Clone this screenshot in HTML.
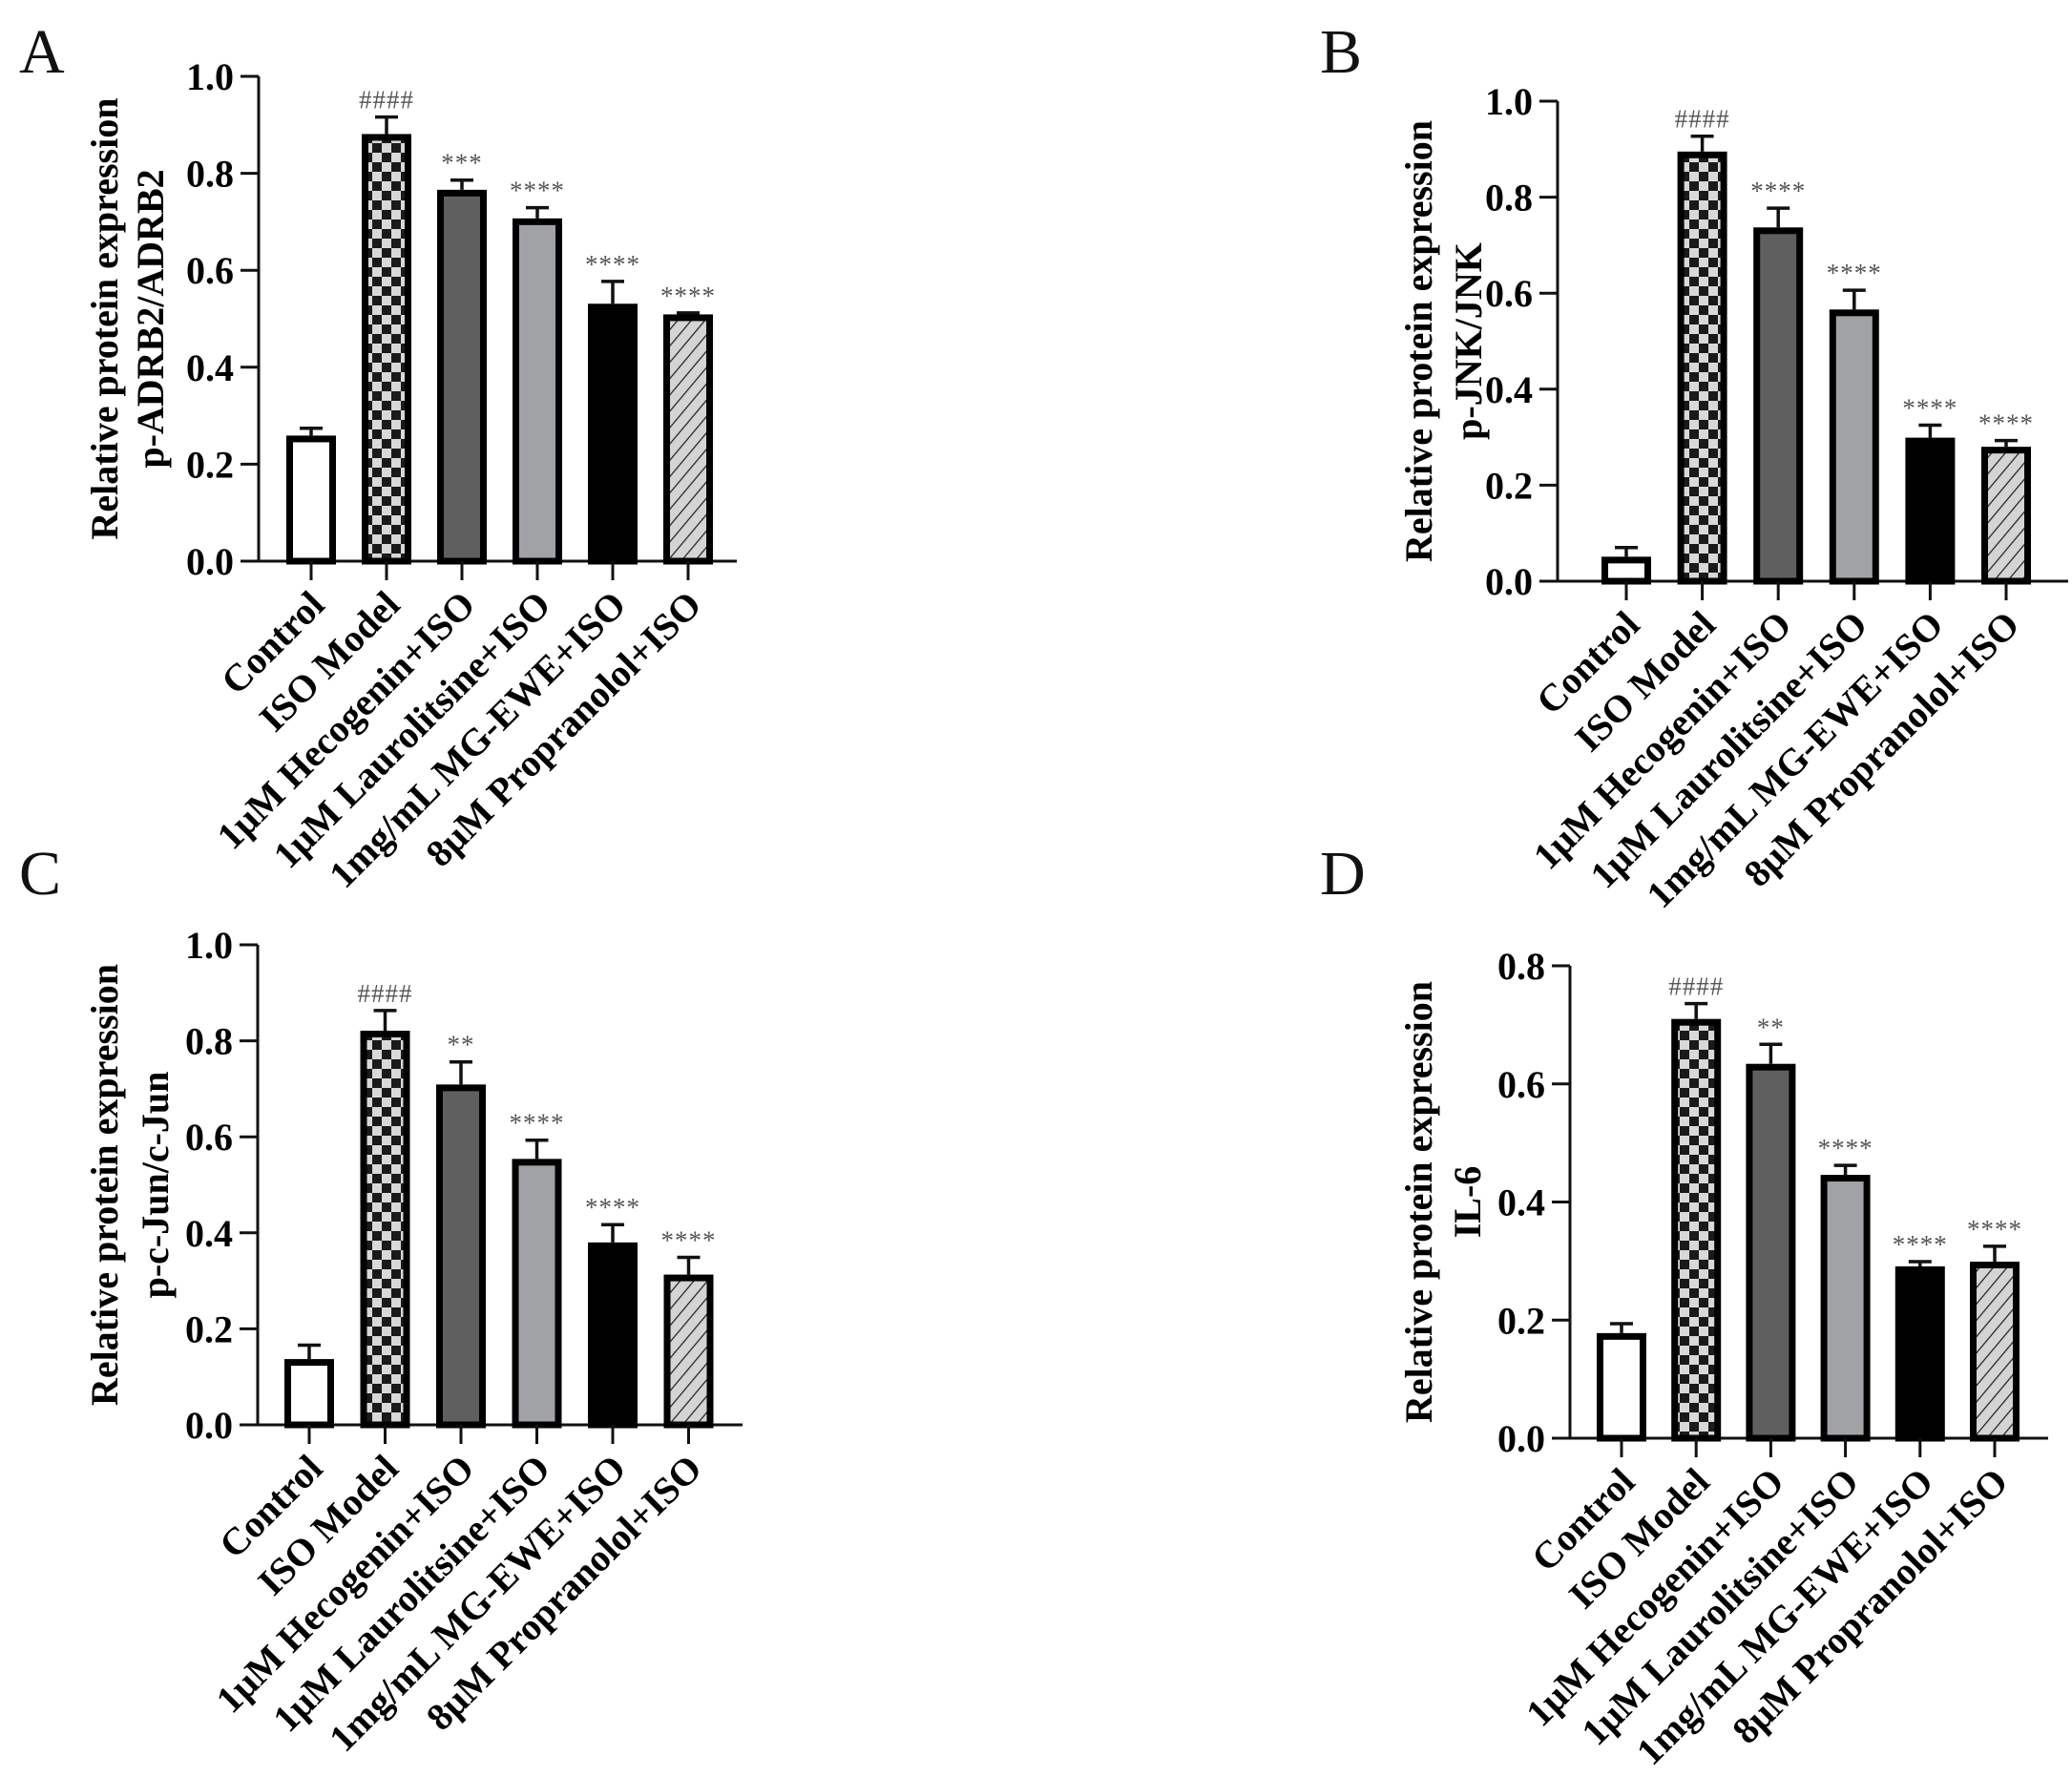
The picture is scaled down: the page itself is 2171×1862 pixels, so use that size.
<!DOCTYPE html>
<html><head><meta charset="utf-8"><style>
html,body{margin:0;padding:0;background:#fff;}
svg{display:block;font-family:"Liberation Serif",serif;}
</style></head><body>
<svg id="fig" width="2171" height="1862" viewBox="0 0 2171 1862" xmlns="http://www.w3.org/2000/svg">
<defs>
<pattern id="checker" width="20" height="20" patternUnits="userSpaceOnUse">
<rect width="20" height="20" fill="#d8d8d8"/>
<rect width="10" height="10" fill="#1a1a1a"/><rect x="10" y="10" width="10" height="10" fill="#1a1a1a"/>
</pattern>
<pattern id="hatch" width="11" height="11" patternUnits="userSpaceOnUse" patternTransform="rotate(40)">
<rect width="11" height="11" fill="#d4d4d4"/>
<line x1="0" y1="0" x2="0" y2="11" stroke="#222" stroke-width="2.5"/>
</pattern>
</defs>
</svg>
<script>
const categories = ["Control","ISO Model","1μM Hecogenin+ISO","1μM Laurolitsine+ISO","1mg/mL MG-EWE+ISO","8μM Propranolol+ISO"];
const valuesA = [0.259,0.881,0.766,0.707,0.531,0.509];
const errorsA = [0.274,0.916,0.786,0.729,0.577,0.512];
const valuesB = [0.051,0.895,0.737,0.566,0.299,0.280];
const errorsB = [0.070,0.927,0.777,0.606,0.325,0.293];
const valuesC = [0.137,0.821,0.709,0.554,0.380,0.313];
const errorsC = [0.166,0.863,0.756,0.593,0.417,0.349];
const valuesD = [0.178,0.710,0.634,0.446,0.291,0.299];
const errorsD = [0.194,0.736,0.667,0.462,0.299,0.325];
const marksA = ["","####","***","****","****","****"];
const marksB = ["","####","****","****","****","****"];
const marksC = ["","####","**","****","****","****"];
const marksD = ["","####","**","****","****","****"];
const ticksAC = ["0.0","0.2","0.4","0.6","0.8","1.0"];
const ticksD = ["0.0","0.2","0.4","0.6","0.8"];
const titlesY = ["p-ADRB2/ADRB2","p-JNK/JNK","p-c-Jun/c-Jun","IL-6"];
const fills = ["#ffffff","url(#checker)","#5f5f5f","#a0a2a5","#000000","url(#hatch)"];

const NS="http://www.w3.org/2000/svg";
const svg=document.getElementById('fig');
function mk(tag,attrs,parent){const e=document.createElementNS(NS,tag);for(const k in attrs)e.setAttribute(k,attrs[k]);(parent||svg).appendChild(e);return e;}

const panels=[
 {id:'a',letter:'A',lx:20,ly:76,ax:271,y0:588,yT:80,vmax:1.0,x1:326,dx:79,xe:772,t1:-162,t2:-114,vals:valuesA,errs:errorsA,marks:marksA,ticks:ticksAC},
 {id:'b',letter:'B',lx:1383,ly:76,ax:1632,y0:609,yT:106,vmax:1.0,x1:1704,dx:79.6,xe:2167,t1:-146,t2:-94,vals:valuesB,errs:errorsB,marks:marksB,ticks:ticksAC},
 {id:'c',letter:'C',lx:20,ly:937,ax:270,y0:1493,yT:990,vmax:1.0,x1:324,dx:79.5,xe:778,t1:-161,t2:-108,vals:valuesC,errs:errorsC,marks:marksC,ticks:ticksAC},
 {id:'d',letter:'D',lx:1383,ly:937,ax:1645,y0:1507,yT:1012,vmax:0.8,x1:1699,dx:78.2,xe:2146,t1:-159,t2:-108,vals:valuesD,errs:errorsD,marks:marksD,ticks:ticksD}
];

panels.forEach((p,pi)=>{
 const g=mk('g',{});
 
 
 const yS=v=>p.y0-(v/p.vmax)*(p.y0-p.yT);
 const xS=i=>p.x1+i*p.dx;
 const L=mk('text',{x:p.lx,y:p.ly,'font-size':66,fill:'#111'},g);L.textContent=p.letter;
 
 
 const cy=(p.y0+p.yT)/2;
 const t1=mk('text',{x:0,y:0,'font-size':40,'font-weight':'bold','text-anchor':'middle',transform:`translate(${p.ax+p.t1+14},${cy}) rotate(-90)`},g);
 t1.textContent='Relative protein expression';
 
 
 const t2=mk('text',{x:0,y:0,'font-size':40,'font-weight':'bold','text-anchor':'middle',transform:`translate(${p.ax+p.t2+14},${cy}) rotate(-90)`},g);
 t2.textContent=titlesY[pi];
 
 
 const ya=mk('line',{x1:p.ax,y1:p.yT,x2:p.ax,y2:p.y0+1.5,stroke:'#111','stroke-width':3},g);
 
 
 p.ticks.forEach(tl=>{
  const v=parseFloat(tl);const y=yS(v);
  mk('line',{x1:p.ax-19,y1:y,x2:p.ax,y2:y,stroke:'#111','stroke-width':3},g);
  const tx=mk('text',{x:p.ax-26,y:y+14,'font-size':40,'font-weight':'bold','text-anchor':'end'},g);
  tx.textContent=tl;
  
  
 });
 const xa=mk('line',{x1:p.ax-19,y1:p.y0,x2:p.xe,y2:p.y0,stroke:'#111','stroke-width':3},g);
 
 
 categories.forEach((c,i)=>{
  const x=xS(i);const bw=52;const yt=yS(p.vals[i]);const ye=yS(p.errs[i]);
  mk('line',{x1:x,y1:ye,x2:x,y2:yt,stroke:'#111','stroke-width':3.5},g);
  mk('line',{x1:x-12,y1:ye,x2:x+12,y2:ye,stroke:'#111','stroke-width':3.5},g);
  const b=mk('rect',{x:x-bw/2+3.5,y:yt+3.5,width:bw-7,height:Math.max(0,p.y0-yt-3.5),fill:fills[i],stroke:'#000','stroke-width':7},g);
  
  
  mk('line',{x1:x,y1:p.y0,x2:x,y2:p.y0+20,stroke:'#111','stroke-width':3},g);
  if(p.marks[i]){
   const m=mk('text',{x:x,y:ye-9,'font-size':27,fill:'#555','text-anchor':'middle','letter-spacing':1},g);
   m.textContent=p.marks[i];
   
   
  }
  const cl=mk('text',{x:0,y:0,'font-size':40,'font-weight':'bold','text-anchor':'end',transform:`translate(${x+16},${p.y0+48}) rotate(-45)`},g);
  cl.textContent=c;
  
  
 });
});
</script>
</body></html>
